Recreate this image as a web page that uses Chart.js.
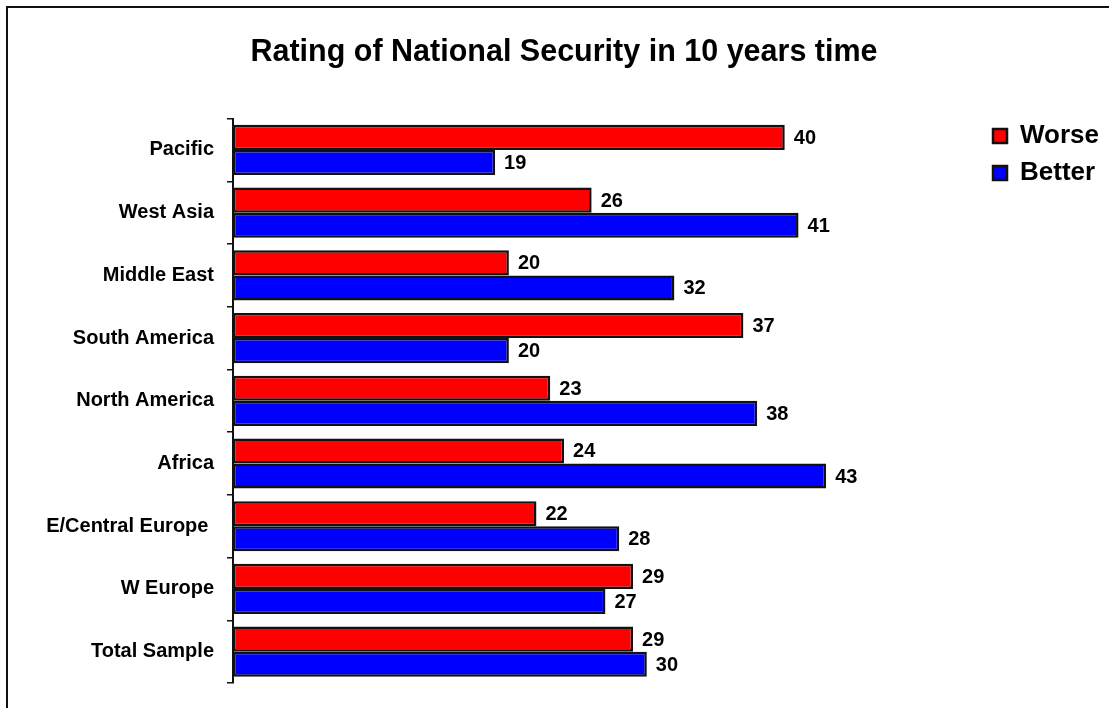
<!DOCTYPE html>
<html>
<head>
<meta charset="utf-8">
<script src="https://cdn.jsdelivr.net/npm/chart.js@4"></script>
<style>
    html, body {
        margin: 0;
        padding: 0;
        background: #fff;
        overflow: hidden;
    }
</style>
</head>
<body>
<canvas id="myChart" width="1109" height="708"></canvas>
<script>
const ctx = document.getElementById("myChart");

let regions = ["Pacific", "West Asia", "Middle East", "South America", "North America",
    "Africa", "E/Central Europe ", "W Europe", "Total Sample"];
let worse = [40, 26, 20, 37, 23, 24, 22, 29, 29];
let better = [19, 41, 32, 20, 38, 43, 28, 27, 30];

const fontFamily = "'Liberation Sans', Arial, sans-serif";

// white background plus the top and left edges of the outer frame
let frame = {
    id: "frame",
    beforeDraw(chart) {
        let c = chart.ctx;
        c.save();
        c.fillStyle = "#fff";
        c.fillRect(0, 0, chart.width, chart.height);
        c.strokeStyle = "#111";
        c.lineWidth = 2;
        c.beginPath();
        c.moveTo(7, chart.height);
        c.lineTo(7, 7);
        c.lineTo(chart.width, 7);
        c.stroke();
        c.restore();
    }
};

// numbers printed just past the end of each bar
let valueLabels = {
    id: "valueLabels",
    afterDatasetsDraw(chart) {
        let c = chart.ctx;
        c.save();
        c.font = "bold 20px " + fontFamily;
        c.fillStyle = "#000";
        c.textAlign = "left";
        c.textBaseline = "middle";
        chart.data.datasets.forEach((ds, i) => {
            chart.getDatasetMeta(i).data.forEach((bar, j) => {
                c.fillText(ds.data[j], bar.x + 9, bar.y + 1);
            });
        });
        c.restore();
    }
};

let chart = new Chart(ctx, {
    type: "bar",
    data: {
        labels: regions,
        datasets: [
            {
                label: "Worse",
                data: worse,
                backgroundColor: "#ff0000",
                borderColor: "#111",
                borderWidth: 2.5,
                borderSkipped: false
            },
            {
                label: "Better",
                data: better,
                backgroundColor: "#0000ff",
                borderColor: "#111",
                borderWidth: 2.5,
                borderSkipped: false
            }
        ]
    },
    options: {
        indexAxis: "y",
        responsive: false,
        animation: false,
        events: [],
        categoryPercentage: 0.8,
        barPercentage: 1.0,
        layout: {
            padding: { left: 19, right: 0, top: 0, bottom: 12 }
        },
        scales: {
            x: {
                display: false,
                min: 0,
                max: 54.3
            },
            y: {
                grid: {
                    display: true,
                    drawOnChartArea: false,
                    drawTicks: true,
                    tickLength: 6,
                    color: "#111",
                    lineWidth: 1.5
                },
                border: {
                    display: true,
                    color: "#111",
                    width: 2
                },
                ticks: {
                    padding: 13,
                    color: "#000",
                    font: { size: 20, weight: "bold", family: fontFamily }
                },
                afterFit: (scale) => {
                    scale.width = 214;
                }
            }
        },
        plugins: {
            title: {
                display: true,
                text: "Rating of National Security in 10 years time",
                color: "#000",
                font: { size: 30.5, weight: "bold", family: fontFamily },
                padding: { top: 34, bottom: 48 }
            },
            legend: {
                position: "right",
                align: "start",
                // empty legend title just pushes the items down level with the first bars
                title: {
                    display: true,
                    text: "",
                    font: { size: 10 },
                    padding: { top: 100, bottom: 0 }
                },
                labels: {
                    boxWidth: 14,
                    boxHeight: 14,
                    padding: 11,
                    color: "#000",
                    font: { size: 26, weight: "bold", family: fontFamily }
                }
            },
            tooltip: { enabled: false }
        }
    },
    plugins: [frame, valueLabels]
});
</script>
</body>
</html>
